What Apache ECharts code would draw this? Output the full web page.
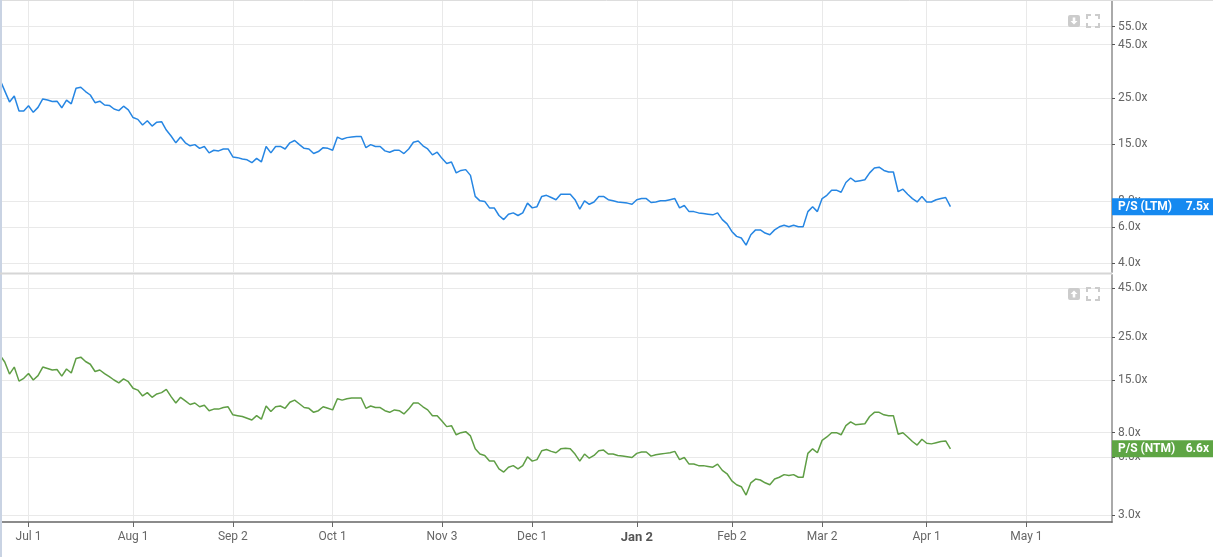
<!DOCTYPE html>
<html>
<head>
<meta charset="utf-8">
<script src="https://cdn.jsdelivr.net/npm/echarts@6/dist/echarts.min.js"></script>
<style>
html,body{margin:0;padding:0;background:#fff;}
#c{width:1213px;height:557px;}
</style>
</head>
<body>
<div id="c"></div>
<script>
// ---- data ----
const startDate = '2025-06-23';
const marketHolidays = ['2025-07-04','2025-09-01','2025-11-27','2025-12-25','2026-01-01','2026-01-19','2026-02-16','2026-04-03','2026-05-25'];
const axisDayCount = 235;
const monthNames = ['Jan','Feb','Mar','Apr','May','Jun','Jul','Aug','Sep','Oct','Nov','Dec'];

const psLTM = [
  30.5, 27.0, 23.9, 25.5, 21.6, 21.6, 22.9, 21.3, 22.5, 24.7,
  24.4, 24.0, 24.1, 22.4, 24.4, 23.4, 27.8, 28.1, 26.8, 25.8,
  23.7, 24.1, 23.1, 23.0, 22.1, 21.7, 22.8, 21.9, 20.1, 19.7,
  18.5, 19.4, 18.3, 19.1, 19.2, 17.5, 16.4, 15.2, 16.2, 15.2,
  14.7, 14.9, 14.3, 14.6, 13.6, 14.0, 13.9, 14.2, 14.2, 13.0,
  12.9, 12.7, 12.6, 12.2, 12.8, 12.3, 14.6, 13.6, 14.6, 14.6,
  14.2, 15.2, 15.6, 14.9, 14.3, 14.2, 13.5, 13.8, 14.4, 14.3,
  14.0, 16.2, 15.8, 16.1, 16.2, 16.3, 16.3, 14.4, 14.9, 14.6,
  14.6, 13.9, 13.7, 14.0, 14.0, 13.5, 14.2, 15.3, 15.5, 14.7,
  14.2, 13.3, 13.7, 12.8, 12.1, 12.3, 10.9, 11.2, 11.3, 10.6,
  8.4, 8.0, 7.95, 7.4, 7.4, 6.8, 6.5, 6.9, 7.0, 6.8,
  7.0, 7.8, 7.4, 7.5, 8.4, 8.5, 8.3, 8.1, 8.6, 8.6,
  8.6, 8.1, 7.3, 8.0, 7.7, 7.9, 8.4, 8.4, 8.1, 8.0,
  7.9, 7.85, 7.8, 7.7, 8.1, 8.2, 8.2, 7.85, 7.9, 8.0,
  8.0, 8.1, 8.2, 7.4, 7.6, 7.1, 7.1, 7.0, 6.95, 6.9,
  6.85, 7.0, 6.5, 6.2, 5.7, 5.4, 5.3, 4.9, 5.5, 5.8,
  5.8, 5.6, 5.5, 5.8, 6.0, 6.1, 6.0, 6.1, 6.0, 6.0,
  7.1, 7.5, 7.1, 8.2, 8.5, 9.0, 9.0, 8.8, 9.8, 10.3,
  9.9, 10.0, 10.1, 10.9, 11.5, 11.6, 11.2, 11.0, 11.0, 8.85,
  9.1, 8.6, 8.2, 7.9, 8.4, 7.9, 7.9, 8.1, 8.2, 8.3,
  7.5
];

const psNTM = [
  20.2, 18.6, 16.1, 17.5, 14.8, 15.3, 16.2, 15.0, 15.8, 17.5,
  17.2, 16.9, 17.0, 15.7, 17.1, 16.3, 19.4, 19.7, 18.7, 18.1,
  16.6, 16.9, 16.2, 15.6, 15.0, 14.5, 15.2, 14.7, 13.6, 13.3,
  12.4, 12.9, 12.2, 12.7, 12.9, 13.4, 12.3, 11.4, 12.2, 11.7,
  11.2, 11.4, 10.9, 11.1, 10.4, 10.6, 10.6, 10.8, 10.9, 9.9,
  9.8, 9.7, 9.5, 9.3, 9.8, 9.4, 11.0, 10.3, 10.9, 11.0,
  10.7, 11.5, 11.8, 11.3, 10.8, 10.7, 10.2, 10.4, 10.9, 10.7,
  10.5, 12.0, 11.8, 12.0, 12.1, 12.1, 12.1, 10.7, 11.0, 10.8,
  10.8, 10.4, 10.2, 10.5, 10.4, 10.0, 10.6, 11.4, 11.4, 10.9,
  10.5, 9.8, 9.8, 9.2, 8.6, 8.7, 7.8, 8.0, 8.1, 7.7,
  6.6, 6.2, 6.1, 5.7, 5.7, 5.2, 5.0, 5.3, 5.4, 5.2,
  5.4, 6.0, 5.7, 5.8, 6.45, 6.55, 6.4, 6.3, 6.6, 6.65,
  6.6, 6.2, 5.7, 6.2, 5.9, 6.1, 6.45, 6.5, 6.2, 6.2,
  6.1, 6.05, 6.0, 5.95, 6.25, 6.35, 6.35, 6.05, 6.15, 6.2,
  6.25, 6.3, 6.4, 5.8, 5.95, 5.5, 5.5, 5.4, 5.4, 5.35,
  5.3, 5.5, 5.1, 4.9, 4.5, 4.3, 4.2, 3.8, 4.4, 4.6,
  4.55, 4.4, 4.3, 4.6, 4.7, 4.85, 4.8, 4.85, 4.7, 4.7,
  6.25, 6.6, 6.3, 7.3, 7.6, 8.0, 8.0, 7.8, 8.7, 9.1,
  8.8, 8.85, 8.9, 9.7, 10.2, 10.2, 9.9, 9.8, 9.8, 7.85,
  8.0, 7.6, 7.2, 6.9, 7.4, 7.05, 7.0, 7.1, 7.2, 7.25,
  6.6
];

const ltmTicks = [4, 6, 8, 15, 25, 45, 55];
const ntmTicks = [3, 6, 8, 15, 25, 45];
const ltmName = 'P/S (LTM)';
const ntmName = 'P/S (NTM)';

// ---- trading-day categories ----
function tradingDays(start, n) {
  const out = [];
  const d = new Date(start + 'T00:00:00Z');
  while (out.length < n) {
    const dow = d.getUTCDay();
    const iso = d.toISOString().slice(0, 10);
    if (dow !== 0 && dow !== 6 && marketHolidays.indexOf(iso) < 0) out.push(iso);
    d.setUTCDate(d.getUTCDate() + 1);
  }
  return out;
}
const dates = tradingDays(startDate, axisDayCount);
const monthStart = dates.map((s, i) => i > 0 && s.slice(5, 7) !== dates[i - 1].slice(5, 7));
const isMonthStart = (i) => !!monthStart[i];

const FONT = "'Liberation Sans Narrow', 'Roboto', sans-serif";
const gridColor = '#e9e9e9';

const chart = echarts.init(document.getElementById('c'), null, { renderer: 'canvas' });

function dateLabel(v) {
  const m = +v.slice(5, 7), d = +v.slice(8, 10);
  const t = monthNames[m - 1] + ' ' + d;
  return m === 1 ? '{b|' + t + '}' : t;
}

const yFmt = (v) => (+v).toFixed(1) + 'x';

const option = {
  animation: false,
  backgroundColor: '#fff',
  grid: [
    { left: -1, right: 101, top: 1, height: 271 },
    { left: -1, right: 101, top: 275, height: 247 }
  ],
  xAxis: [
    {
      type: 'category', gridIndex: 0, data: dates, boundaryGap: false,
      axisLine: { show: false }, axisTick: { show: false }, axisLabel: { show: false },
      splitLine: { show: true, interval: isMonthStart, lineStyle: { color: gridColor, width: 1 } }
    },
    {
      type: 'category', gridIndex: 1, data: dates, boundaryGap: false,
      axisLine: { show: true, lineStyle: { color: '#666', width: 1.5 } },
      axisTick: { show: true, interval: isMonthStart, length: 5, lineStyle: { color: '#666' } },
      axisLabel: {
        interval: isMonthStart, formatter: dateLabel, color: '#666', fontSize: 12,
        fontFamily: FONT, margin: 9,
        rich: { b: { fontWeight: 'bold', color: '#555', fontSize: 13, fontFamily: FONT } }
      },
      splitLine: { show: true, interval: isMonthStart, lineStyle: { color: gridColor, width: 1 } }
    }
  ],
  yAxis: [
    {
      type: 'log', gridIndex: 0, position: 'right', min: 3.64, max: 73,
      axisLine: { show: true, lineStyle: { color: '#aaa', width: 2 } },
      axisTick: { show: true, customValues: ltmTicks, length: 3, lineStyle: { color: '#555' } },
      axisLabel: { customValues: ltmTicks, formatter: yFmt, color: '#666', fontSize: 12, fontFamily: FONT, margin: 6 },
      splitLine: { show: true, lineStyle: { color: gridColor, width: 1 } }
    },
    {
      type: 'log', gridIndex: 1, position: 'right', min: 2.756, max: 52.5,
      axisLine: { show: true, lineStyle: { color: '#aaa', width: 2 } },
      axisTick: { show: true, customValues: ntmTicks, length: 3, lineStyle: { color: '#555' } },
      axisLabel: { customValues: ntmTicks, formatter: yFmt, color: '#666', fontSize: 12, fontFamily: FONT, margin: 6 },
      splitLine: { show: true, lineStyle: { color: gridColor, width: 1 } }
    }
  ],
  series: [
    {
      name: ltmName, type: 'line', xAxisIndex: 0, yAxisIndex: 0, data: psLTM,
      showSymbol: false, symbol: 'none', smooth: false,
      lineStyle: { color: '#2686e3', width: 1.5 }, itemStyle: { color: '#2686e3' }, z: 5
    },
    {
      name: ntmName, type: 'line', xAxisIndex: 1, yAxisIndex: 1, data: psNTM,
      showSymbol: false, symbol: 'none', smooth: false,
      lineStyle: { color: '#5f9e45', width: 1.5 }, itemStyle: { color: '#5f9e45' }, z: 5
    }
  ]
};
chart.setOption(option);

// ---- overlays positioned through the chart's own scales ----
const axisX = chart.convertToPixel({ gridIndex: 0 }, [dates.length - 1, 10])[0];
function valueBox(yAxisIndex, name, value, color) {
  const y = chart.convertToPixel({ yAxisIndex: yAxisIndex }, value);
  return [
    { type: 'rect', z: 100, shape: { x: axisX, y: y - 8.5, width: 1213 - axisX, height: 17 }, style: { fill: color } },
    { type: 'text', z: 101, x: axisX + 6, y: y, style: { text: name, fill: '#fff', font: "bold 12px " + FONT, textVerticalAlign: 'middle', verticalAlign: 'middle' } },
    { type: 'text', z: 101, x: 1209, y: y, style: { text: value.toFixed(1) + 'x', fill: '#fff', font: "bold 12px " + FONT, align: 'right', textAlign: 'right', verticalAlign: 'middle', textVerticalAlign: 'middle' } }
  ];
}
function icons(top, up) {
  const x = 1068, s = 12;
  const cx = x + s / 2;
  const arrow = up
    ? [[cx, top + 2.5], [cx + 3.5, top + 6], [cx + 1.3, top + 6], [cx + 1.3, top + 9.5], [cx - 1.3, top + 9.5], [cx - 1.3, top + 6], [cx - 3.5, top + 6]]
    : [[cx, top + 9.5], [cx + 3.5, top + 6], [cx + 1.3, top + 6], [cx + 1.3, top + 2.5], [cx - 1.3, top + 2.5], [cx - 1.3, top + 6], [cx - 3.5, top + 6]];
  const fx = 1087, fs = 12, c = 4, st = { stroke: '#cccccc', lineWidth: 2, fill: null };
  return [
    { type: 'rect', z: 100, shape: { x: x, y: top, width: s, height: s, r: 2 }, style: { fill: '#cccccc' } },
    { type: 'polygon', z: 101, shape: { points: arrow }, style: { fill: '#fff' } },
    { type: 'polyline', z: 100, shape: { points: [[fx, top + c], [fx, top], [fx + c, top]] }, style: st },
    { type: 'polyline', z: 100, shape: { points: [[fx + fs - c, top], [fx + fs, top], [fx + fs, top + c]] }, style: st },
    { type: 'polyline', z: 100, shape: { points: [[fx, top + fs - c], [fx, top + fs], [fx + c, top + fs]] }, style: st },
    { type: 'polyline', z: 100, shape: { points: [[fx + fs - c, top + fs], [fx + fs, top + fs], [fx + fs, top + fs - c]] }, style: st }
  ];
}
const graphics = []
  .concat([
    { type: 'line', z: 90, shape: { x1: 0, y1: 0.5, x2: 1213, y2: 0.5 }, style: { stroke: '#dddddd', lineWidth: 1 } },
    { type: 'line', z: 90, shape: { x1: 1, y1: 0, x2: 1, y2: 557 }, style: { stroke: '#c9d3e3', lineWidth: 2 } },
    { type: 'line', z: 90, shape: { x1: 0, y1: 273.5, x2: axisX, y2: 273.5 }, style: { stroke: '#d6d6d6', lineWidth: 2 } }
  ])
  .concat(valueBox(0, ltmName, psLTM[psLTM.length - 1], '#1589f0'))
  .concat(valueBox(1, ntmName, psNTM[psNTM.length - 1], '#5ea544'))
  .concat(icons(15, false))
  .concat(icons(288, true));
chart.setOption({ graphic: graphics });
</script>
</body>
</html>
